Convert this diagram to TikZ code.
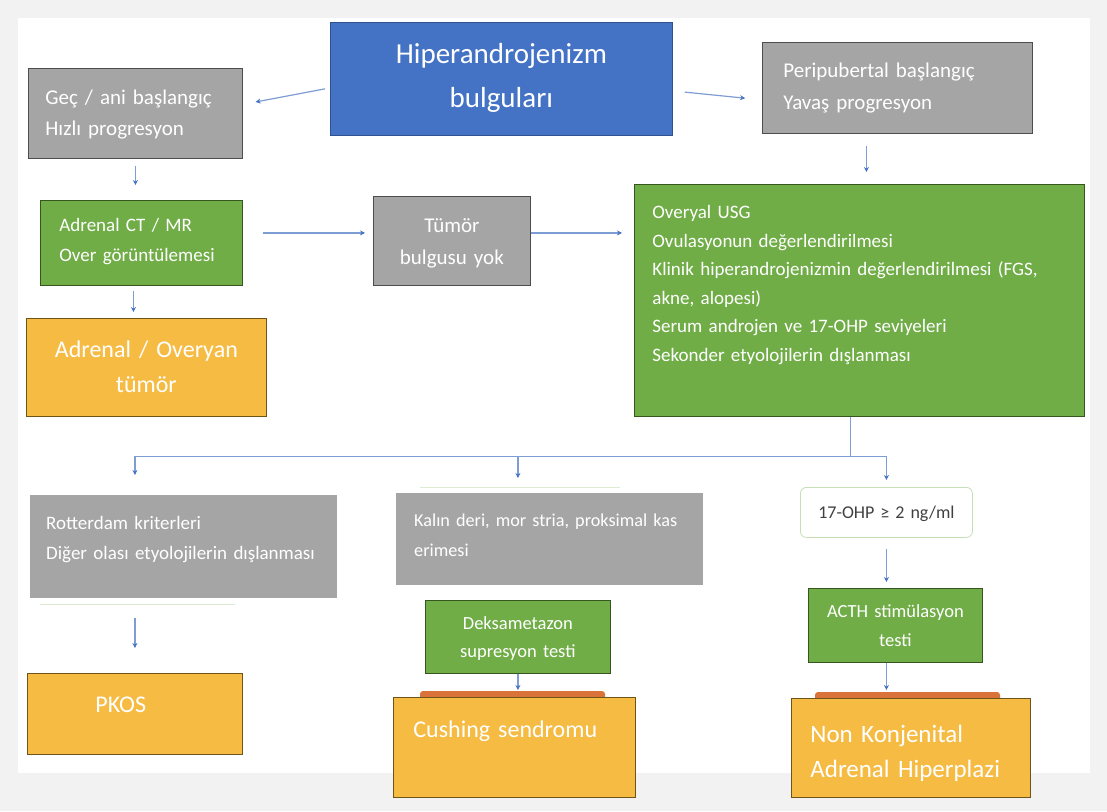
\documentclass[tikz,border=0pt]{standalone}
\usepackage{fontspec}
\setmainfont{Carlito}
\usetikzlibrary{arrows.meta,positioning,calc}

\definecolor{pagegray}{HTML}{F2F2F2}
\definecolor{hblue}{HTML}{4472C4}
\definecolor{hblueedge}{HTML}{2F528F}
\definecolor{hgray}{HTML}{A5A5A5}
\definecolor{hgrayedge}{HTML}{4D4D4D}
\definecolor{hgreen}{HTML}{70AD47}
\definecolor{hgreenedge}{HTML}{35561F}
\definecolor{horange}{HTML}{F6BB43}
\definecolor{horangeedge}{HTML}{6F5418}
\definecolor{hbar}{HTML}{D9733A}
\definecolor{harrow}{HTML}{7E9DD4}
\definecolor{htip}{HTML}{4472C4}
\definecolor{hfaint}{HTML}{DCEBD2}

\tikzset{
  box/.style={anchor=north west, inner ysep=0pt, text=white},
  bluebox/.style={box, fill=hblue, draw=hblueedge, line width=0.8pt},
  graybox/.style={box, fill=hgray, draw=hgrayedge, line width=0.8pt},
  flatgray/.style={box, fill=hgray},
  greenbox/.style={box, fill=hgreen, draw=hgreenedge, line width=0.8pt},
  orangebox/.style={box, fill=horange, draw=horangeedge, line width=0.8pt},
  testbox/.style={box, fill=white, draw=hfaint!80!hgreen, line width=0.8pt,
    rounded corners=6pt, text=black!75},
  arr/.style={draw=harrow, line width=1.2pt, -{Stealth[length=5pt,width=5pt,color=htip]}},
  line/.style={draw=harrow, line width=1.2pt}
}

\begin{document}
\begin{tikzpicture}[x=1pt,y=-1pt]
% page and panel
\fill[pagegray] (0,0) rectangle (1107,811);
\fill[white] (18,18) rectangle (1090,773);
\useasboundingbox (0,0) rectangle (1107,811);

% top row
\node[bluebox, text width=342pt, inner xsep=0pt, text height=41pt, text depth=72pt,
  align=center, font={\fontsize{29}{44}\selectfont}] (title) at (330,22)
  {Hiperandrojenizm\\bulguları};
\node[graybox, text width=180pt, inner xsep=17pt, text height=36pt, text depth=54pt,
  align=left, font={\fontsize{21}{31}\selectfont}] (gec) at (28,68)
  {Geç / ani başlangıç\\Hızlı progresyon};
\node[graybox, text width=228pt, inner xsep=21pt, text height=35pt, text depth=56pt,
  align=left, font={\fontsize{21}{32}\selectfont}] (peri) at (762,42)
  {Peripubertal başlangıç\\Yavaş progresyon};

% second row
\node[greenbox, text width=164pt, inner xsep=19pt, text height=31pt, text depth=54pt,
  align=left, font={\fontsize{19}{30}\selectfont}] (ct) at (40,200)
  {Adrenal CT / MR\\Over görüntülemesi};
\node[orangebox, text width=240pt, inner xsep=0pt, text height=39pt, text depth=59pt,
  align=center, font={\fontsize{24}{35}\selectfont}] (adr) at (26,318)
  {Adrenal / Overyan\\tümör};
\node[graybox, text width=157pt, inner xsep=0pt, text height=36pt, text depth=53pt,
  align=center, font={\fontsize{21}{32}\selectfont}] (yok) at (373,196)
  {Tümör\\bulgusu yok};
\node[greenbox, text width=414pt, inner xsep=18pt, text height=34pt, text depth=198pt,
  align=left, font={\fontsize{19}{28.6}\selectfont}] (eval) at (634,184)
  {Overyal USG\\Ovulasyonun değerlendirilmesi\\Klinik hiperandrojenizmin değerlendirilmesi (FGS,\\akne, alopesi)\\Serum androjen ve 17-OHP seviyeleri\\Sekonder etyolojilerin dışlanması};

% lower rows
\draw[hfaint, line width=1pt] (40,604) -- (235,604);
\draw[hfaint, line width=1pt] (420,487) -- (620,487);
\node[flatgray, text width=275pt, inner xsep=16pt, text height=34pt, text depth=69pt,
  align=left, font={\fontsize{19}{30}\selectfont}] (rott) at (30,495)
  {Rotterdam kriterleri\\Diğer olası etyolojilerin dışlanması};
\node[orangebox, text width=79pt, inner xsep=68pt, text height=39pt, text depth=42pt,
  align=left, font={\fontsize{24}{35}\selectfont}] (pkos) at (27,673) {PKOS};
\node[flatgray, text width=271pt, inner xsep=18pt, text height=33pt, text depth=59pt,
  align=left, font={\fontsize{18.2}{30}\selectfont}] (kalin) at (396,493)
  {Kalın deri, mor stria, proksimal kas\\erimesi};
\node[greenbox, text width=185pt, inner xsep=0pt, text height=29pt, text depth=44pt,
  align=center, font={\fontsize{18.5}{28}\selectfont}] (deks) at (425,600)
  {Deksametazon\\supresyon testi};
\fill[hbar, rounded corners=3pt] (420,691) rectangle (605,700);
\node[orangebox, text width=202pt, inner xsep=20pt, text height=40pt, text depth=60pt,
  align=left, font={\fontsize{24}{36}\selectfont}] (cush) at (393,697)
  {Cushing sendromu};
\node[testbox, text width=172pt, inner xsep=0pt, text height=31pt, text depth=19pt,
  align=center, font={\fontsize{18}{22}\selectfont}] (ohp) at (800,487)
  {17-OHP ≥ 2 ng/ml};
\node[greenbox, text width=174pt, inner xsep=0pt, text height=29pt, text depth=45pt,
  align=center, font={\fontsize{18.5}{29}\selectfont}] (acth) at (808,588)
  {ACTH stimülasyon\\testi};
\fill[hbar, rounded corners=3pt] (815,692) rectangle (1000,701);
\node[orangebox, text width=201pt, inner xsep=19pt, text height=44pt, text depth=55pt,
  align=left, font={\fontsize{25}{35}\selectfont}] (nkah) at (791,698)
  {Non Konjenital\\Adrenal Hiperplazi};

% connectors
\draw[arr, shorten <=5pt, shorten >=13pt] ([yshift=-9pt]title.west) -- ([yshift=9pt]gec.east);
\draw[arr, shorten <=12pt, shorten >=17pt] ([yshift=-12pt]title.east) -- ([yshift=-12pt]peri.west);
\draw[arr, shorten <=7pt, shorten >=15pt] (gec.south) -- (gec.south |- ct.north);
\draw[arr, shorten <=5pt, shorten >=6pt] ([xshift=-8pt]ct.south) -- ([xshift=-8pt]ct.south |- adr.north);
\draw[arr, shorten <=20pt, shorten >=8pt] ([yshift=10pt]ct.east) -- ([yshift=10pt]ct.east -| yok.west);
\draw[arr, shorten <=0pt, shorten >=12pt] ([yshift=8pt]yok.east) -- ([yshift=8pt]yok.east -| eval.west);
\draw[arr, shorten <=12pt, shorten >=12pt] ([xshift=7pt]eval.north |- peri.south) -- ([xshift=7pt]eval.north);

\coordinate (split) at ([xshift=-9pt,yshift=-40pt]eval.south);
\draw[line] ([xshift=-9pt]eval.south) -- (split);
\draw[arr, shorten >=20pt] (split) -| (pkos.north |- rott.north);
\draw[arr, shorten >=7pt] (split) -| (ohp.north);
\draw[arr, shorten >=15pt] (split -| deks.north) -- (deks.north |- kalin.north);

\draw[arr, shorten <=20pt, shorten >=25pt] (pkos.north |- rott.south) -- (pkos.north);
\draw[arr, shorten >=7pt] (deks.south) -- (deks.south |- cush.north);
\draw[arr, shorten <=11pt, shorten >=6pt] (ohp.south) -- (ohp.south |- acth.north);
\draw[arr, shorten >=8pt] (ohp.south |- acth.south) -- (ohp.south |- nkah.north);
\end{tikzpicture}
\end{document}
